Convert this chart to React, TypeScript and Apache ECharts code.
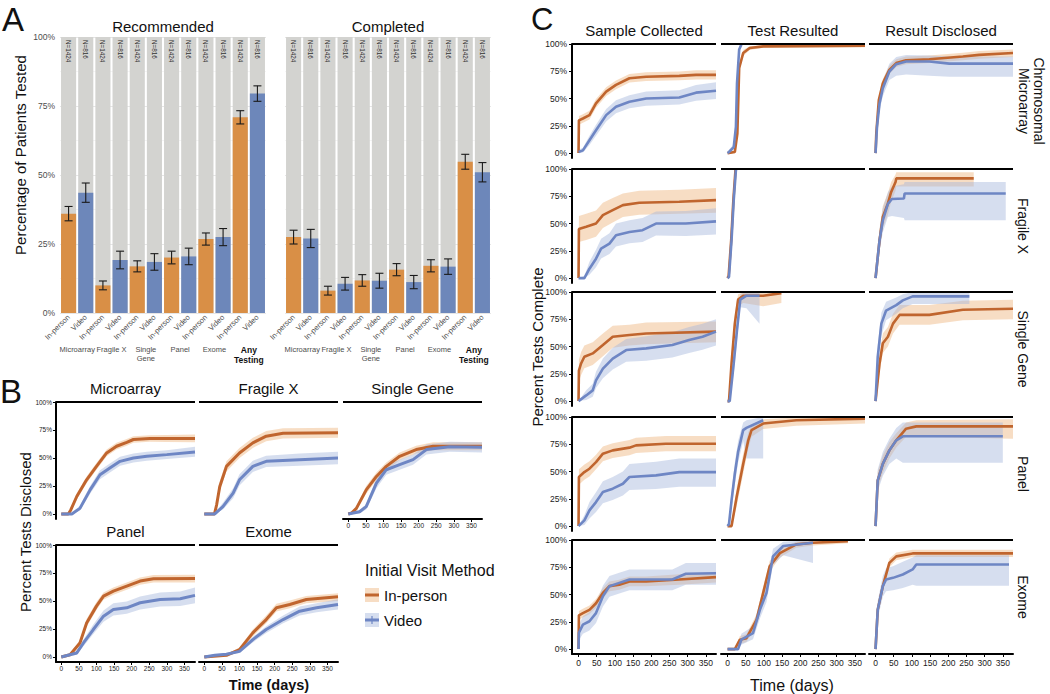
import React, { useEffect, useRef } from 'react';
import * as echarts from 'echarts';

// ---------- Panel A data ----------
const barLabels = ['In-person', 'Video', 'In-person', 'Video', 'In-person', 'Video', 'In-person', 'Video', 'In-person', 'Video', 'In-person', 'Video'];
const groupLabels = ['Microarray', 'Fragile X', 'Single\nGene', 'Panel', 'Exome', 'Any\nTesting'];
const nLabels = ['N=1424', 'N=816', 'N=1424', 'N=816', 'N=1424', 'N=816', 'N=1424', 'N=816', 'N=1424', 'N=816', 'N=1424', 'N=816'];
const recommendedPct = [36, 43.6, 10, 19.2, 16.9, 18.5, 20.1, 20.5, 26.8, 27.5, 70.9, 79.5];
const recommendedErr = [2.6, 3.5, 1.6, 3.2, 2, 3, 2.3, 3, 2.2, 3.1, 2.4, 2.8];
const completedPct = [27.5, 27, 8.1, 10.6, 11.8, 11.7, 15.7, 11.2, 17.1, 16.8, 54.8, 51];
const completedErr = [2.5, 3.3, 1.6, 2.3, 2.1, 2.7, 2.2, 2.4, 2.2, 2.8, 2.7, 3.5];
const pctTicks = [0, 25, 50, 75, 100];
const dayTicks = [0, 50, 100, 150, 200, 250, 300, 350];

// ---------- Panel B data: [day, estimate, lower, upper] ----------
const bTitles = ['Microarray', 'Fragile X', 'Single Gene', 'Panel', 'Exome'];
const bMicroarrayIn = [[0,0,0,0],[20,0,0,0.5],[27,3.6,2,5.5],[44,15.6,13,18.5],[72,30.5,27.5,33.5],[100,42.5,39.5,45.5],[129,54.5,51.5,57.5],[157,60.5,57.5,63.5],[186,64,61,67],[205,66.5,63.5,69.5],[252,67.4,64.4,70.4],[300,67.4,64.2,70.6],[380,67.5,64,71]];
const bMicroarrayVid = [[0,0,0,0],[30,0,0,0.5],[53,5,3,7.5],[82,21.5,18,25],[110,35,31,39],[138,41,37,45],[167,47,43,51],[205,50,46,54],[243,51.5,47.5,55.5],[300,53,49,57],[380,55.4,51,60]];
const bFragileIn = [[0,0,0,0],[29,0,0,1],[35,8,5,12],[44,24.5,20,29],[63,42.5,38,47],[100,54.5,50,59],[138,63.5,59,68],[176,69.5,65,74],[224,72,67.5,76.5],[380,72.5,68,77]];
const bFragileVid = [[0,0,0,0],[30,0,0,1],[53,6.6,4,10],[82,18.6,14,23],[100,30.5,25.5,35.5],[138,42.5,37.5,47.5],[176,47,42,52],[271,48.5,43,54],[380,50,44.5,55.5]];
const bSingleIn = [[0,0,0,0],[10,1,0,2],[23,5,3,7],[51,21.5,18,25],[80,33.5,30,37],[108,42.5,39,46],[146,51.5,48,55],[193,57.5,54,61],[241,60.5,57,64],[380,60.5,57,64]];
const bSingleVid = [[0,0,0,0],[32,2,0.5,3.5],[51,6.6,4,9],[80,27.5,23,32],[108,39.5,35,44],[146,44,39.5,48.5],[184,48.5,44,53],[222,57.5,53,62],[288,60,55.5,64.5],[380,59.5,55,64]];
const bPanelIn = [[0,0,0,0],[25,2,1,3],[53,12.5,10,15],[72,30.4,27,34],[100,45.4,42,49],[120,54.3,51,57.5],[148,58.8,55.5,62],[186,63.3,60,66.5],[224,67.8,64.5,71],[262,69.9,66.5,73.3],[380,70,66.5,73.5]];
const bPanelVid = [[0,0,0,0],[44,3.6,2,5.5],[63,12.5,9.5,15.5],[91,24.5,20.5,29],[120,36.4,31.5,41.5],[148,42.4,37,48],[186,43.9,38.5,49.5],[224,48.4,42.5,54],[281,51.3,45,57.5],[338,52,45.5,58.5],[380,55,48,62]];
const bExomeIn = [[0,0,0,0],[63,1.5,0.5,2.5],[100,6.6,5,8.5],[138,21.5,18.5,24.5],[176,33.4,30,37],[205,43.9,40.5,47.5],[243,46.9,43.5,50.5],[290,51.3,48,54.5],[380,53.7,50,57]];
const bExomeVid = [[0,0,0,0],[30,1.5,0.5,2.5],[63,2.5,1.5,3.5],[100,5,3.5,6.5],[138,15.5,13,18],[176,24.5,21.5,27.5],[224,33.4,30,37],[271,40.9,37,45],[319,43.9,40,48],[380,46.9,42.5,51.5]];

// ---------- Panel C data: [day, estimate, lower, upper] ----------
const cColTitles = ['Sample Collected', 'Test Resulted', 'Result Disclosed'];
const cRowTitles = ['Chromosomal\nMicroarray', 'Fragile X', 'Single Gene', 'Panel', 'Exome'];
// Chromosomal Microarray
const cMicroSampleIn = [[0,0,0,0],[1,30,26,34],[12,31.7,27.7,35.7],[30,34.8,30.8,38.8],[48,45.5,41.5,49.5],[76,56.3,52.3,60.3],[103,62.5,58.5,66.5],[140,68.6,64.6,72.6],[186,70,66,74],[277,70.8,66.8,74.8],[323,71.7,67.5,75.9],[378,71.7,67.5,75.9]];
const cMicroSampleVid = [[0,1,0,3],[12,2.5,0.5,5],[30,11.7,7.5,16],[48,20.9,16,26],[76,34.8,29,40.5],[103,42.5,36.5,48.5],[140,47,41,53],[186,50,43.5,56.5],[277,51,44.5,57.5],[323,55.4,48,62.5],[378,57.2,49.5,65]];
const cMicroTestIn = [[0,0,0,0],[20,1,0,2.5],[27,17.8,14,22],[32,78,74,82],[43,91.7,89,94.5],[61,96.3,94.5,98],[98,97.8,96.5,99],[378,98.5,97,100]];
const cMicroTestVid = [[0,0,0,0],[4,1,0,3],[17,5.5,3,8],[23,24,19,29],[26,64,58,70],[32,95,92,98],[38,99.4,98.5,100]];
const cMicroDiscIn = [[0,0,0,0],[2,17.8,14,21.5],[9,48.6,44.5,52.5],[20,64,60,68],[38,76.3,72.5,80],[57,82.5,79,86],[84,85,81.5,88.5],[148,86,82.5,89.5],[240,88.6,85,92],[285,90,86.5,93.5],[378,91.7,88,95]];
const cMicroDiscVid = [[0,0,0,0],[4,24,18,30],[11,45.5,39,52],[20,59.4,52,66.5],[38,74.8,67,82],[57,81.5,71,88],[84,84,72,90],[148,84,71,89.5],[203,82,70,88.5],[378,82,70,88.5]];
// Fragile X
const cFragSampleIn = [[0,0,0,0],[1,45,33,57],[21,47,35,59],[48,50,38,62],[67,57.7,46,69],[94,62.3,51,73.5],[122,66.9,56,77.5],[167,69,58,80],[277,70,59,81],[378,71.5,60,82.5]];
const cFragSampleVid = [[0,0,0,0],[16,0,0,2],[30,8.6,3,15],[48,17.8,10,26],[62,27,18,36],[85,31.6,22,41],[103,39.3,29,50],[140,42.3,32,53],[176,43.9,33,55],[213,50,39,61],[295,50,38.5,61.5],[378,52,40,64]];
const cFragTestIn = [[0,0,0,0],[3,2,0,6],[10,34.7,25,45],[16,71.5,62,80],[22,100,99,100]];
const cFragTestVid = [[0,0,0,0],[4,1,0,5],[11,34.7,25,45],[17,71.5,62,80],[23,99,96,100],[25,100,99,100]];
const cFragDiscIn = [[0,0,0,0],[11,34.7,25,45],[20,56,46,66],[34,68.4,58,78],[43,79,70,88],[55,88,80,95],[57,91.4,84,97],[270,91.4,84,97]];
const cFragDiscVid = [[0,0,0,0],[11,34.7,25,45],[20,53,42,64],[34,68,56,79],[45,72.5,57,84],[78,73,55,86],[80,77.6,53,88],[358,77.6,53,88]];
// Single Gene
const cSingleSampleIn = [[0,0,0,0],[1,28,18,38],[7,34.5,24,45],[16,40.6,30,51],[39,43.7,33,54],[67,51.4,41,62],[94,59,49,69],[140,60.6,51,70],[186,62,52,72],[378,63.7,54,73]];
const cSingleSampleVid = [[0,0,0,0],[21,5.2,1,10],[39,9.8,4,16],[48,19,12,27],[67,29.8,21,39],[94,39,29,49],[131,46.8,36,57],[186,48.3,37,59.5],[258,51.4,40,63],[304,56,44,68],[341,59,47,71],[378,63.7,51,75]];
const cSingleTestIn = [[0,0,0,0],[4,0,0,2],[11,34.5,25,44],[20,71,62,80],[29,93,87,98],[43,96.6,90,99.5],[98,96.6,87,100],[148,99,90,100]];
const cSingleTestVid = [[0,0,0,0],[6,0,0,2],[17,34.5,25,44],[26,65,55,75],[35,93,86,98],[52,96.6,85,100],[88,96.6,71,100]];
const cSingleDiscIn = [[0,0,0,0],[11,34.5,26,43],[20,53,44,62],[34,59,50,68],[48,71,62,80],[66,79,70,88],[148,79,70,88],[240,83.7,74,92],[378,84.6,75,93]];
const cSingleDiscVid = [[0,0,0,0],[6,40.6,30,51],[16,71,60,81],[29,83,74,91],[57,88,80,95],[75,92.3,85,98],[102,96,89,100],[258,96,89,100]];
// Panel
const cPanelSampleIn = [[0,0,0,0],[1,45,38,52],[16,49.5,42.5,56.5],[30,52.6,45.5,59.5],[48,58.7,52,65.5],[67,66.4,59.5,73],[94,69.4,62.5,76],[140,71.9,65,79],[158,74,67,81],[240,75.5,68.5,82.5],[378,75.5,68.5,82.5]];
const cPanelSampleVid = [[0,0,0,0],[16,5.2,1,10],[30,14.4,7,22],[48,22,13,31],[67,31.2,21,41],[94,34.3,24,45],[122,38.8,28,50],[140,45,33,57],[213,46.5,34,59],[277,49.5,36,62],[378,49.5,36,62]];
const cPanelTestIn = [[0,0,0,0],[11,0,0,2],[25,26.6,18,35],[43,57,48,66],[57,78.6,71,86],[66,88,82,93],[98,94,89,98],[189,97,92,99.5],[378,98.5,94,100]];
const cPanelTestVid = [[0,0,0,0],[4,2,0,6],[11,23.5,15,32],[20,48,38,58],[29,68,58,78],[43,88,78,95],[52,90,62,97],[98,97,62,100]];
const cPanelDiscIn = [[0,0,0,0],[6,42,34,50],[20,57,49,65],[38,69.4,62,77],[57,78.6,72,85],[84,89.3,82,95],[112,91.4,82,97],[378,91.4,80,98]];
const cPanelDiscVid = [[0,0,0,0],[6,42,32,52],[20,57,46,68],[38,69.4,57,80],[57,78.6,62,90],[75,82.3,58,95],[350,82.3,58,95]];
// Exome
const cExomeSampleIn = [[0,0,0,0],[1,31,27,35],[12,33,29,37],[30,36,32,40],[48,42,38,46],[67,51.5,47,56],[85,57.7,53,62],[112,59,54.5,63.5],[140,62,57.5,66.5],[186,62,57.5,66.5],[277,63.8,59,68.5],[378,66,61,71]];
const cExomeSampleVid = [[0,0,0,0],[1,15,8,22],[12,22.4,14,30],[30,25.5,17,34],[48,33,24,42],[67,48.5,39,58],[85,57.7,48,67],[112,60.7,51,70],[140,63.8,54,73],[258,63.8,54,73],[295,69,59,79],[378,69.5,59,79]];
const cExomeTestIn = [[0,0,0,0],[20,0,0,1],[34,8.6,5,12],[52,10,6.5,13.5],[80,27,22,32],[98,51.5,46,57],[116,76,71,81],[144,88,84,92],[189,96,93,98.5],[235,97.5,95,99.5],[331,99,97,100]];
const cExomeTestVid = [[0,0,0,0],[29,0,0,1],[38,8.6,4,14],[70,14.7,9,21],[89,36,28,44],[107,51.5,43,60],[125,85,77,92],[153,94.5,86,98.5],[235,97.5,79,100]];
const cExomeDiscIn = [[0,0,0,0],[6,36,32,40],[20,57.7,53.5,62],[38,79,75,83],[57,85,81.5,88.5],[102,87.7,84.5,91],[378,87.7,84.5,91]];
const cExomeDiscVid = [[0,0,0,0],[6,36,28,44],[20,57.7,48,67],[29,63.8,53,74],[48,65.3,54,76],[75,68.4,56,80],[102,73,59,84],[112,77.6,58,86],[367,77.6,58,86]];

const FONT = '"Liberation Sans", Arial, Helvetica, sans-serif';
const ORANGE_BAR = '#D98F46';
const BLUE_BAR = '#6D87BA';
const ORANGE_LINE = '#C0652E';
const BLUE_LINE = '#6E86C4';
const ORANGE_BAND = 'rgba(235,173,115,0.42)';
const BLUE_BAND = 'rgba(164,182,219,0.45)';

function buildOption() {
  const grid: any[] = [];
  const xAxis: any[] = [];
  const yAxis: any[] = [];
  const series: any[] = [];
  const graphic: any[] = [];

  const txt = (text: string, x: number, y: number, size: number, extra: any = {}) => ({
    type: 'text', x, y, rotation: extra.rotation || 0, silent: true,
    style: { text, x: 0, y: 0, fontSize: size, fontFamily: FONT, fill: extra.fill || '#111',
      fontWeight: extra.weight || 'normal', align: extra.align || 'center', verticalAlign: 'middle', lineHeight: extra.lineHeight },
  });

  // ---------------- Panel A ----------------
  const aPanels = [
    { left: 60, title: 'Recommended', vals: recommendedPct, errs: recommendedErr },
    { left: 285, title: 'Completed', vals: completedPct, errs: completedErr },
  ];
  aPanels.forEach((p, pi) => {
    const gi = grid.length;
    grid.push({ left: p.left, top: 37, width: 206, height: 276 });
    const xi = xAxis.length;
    xAxis.push({
      type: 'category', gridIndex: gi, data: barLabels, position: 'bottom',
      axisLine: { show: false }, axisTick: { show: false }, splitLine: { show: false },
      axisLabel: { interval: 0, rotate: 45, fontSize: 7.5, color: '#4d4d4d', margin: 3, fontFamily: FONT },
    });
    xAxis.push({
      type: 'category', gridIndex: gi, data: groupLabels, position: 'bottom', offset: 31,
      axisLine: { show: false }, axisTick: { show: false }, splitLine: { show: false },
      axisLabel: {
        interval: 0, fontSize: 7.5, color: '#4d4d4d', margin: 1, lineHeight: 9, fontFamily: FONT,
        formatter: (v: string) => (v === 'Any\nTesting' ? '{b|Any}\n{b|Testing}' : v),
        rich: { b: { fontWeight: 'bold', fontSize: 8.5, color: '#111', lineHeight: 10, fontFamily: FONT } },
      },
    });
    const yi = yAxis.length;
    yAxis.push({
      type: 'value', gridIndex: gi, min: 0, max: 100, interval: 25,
      axisLine: { show: false }, axisTick: { show: false },
      axisLabel: { show: pi === 0, formatter: '{value}%', fontSize: 8.5, color: '#4d4d4d', margin: 5, fontFamily: FONT },
      splitLine: { show: true, lineStyle: { color: '#e6e6e6', width: 1 } },
      minorTick: { show: false, splitNumber: 2 },
      minorSplitLine: { show: true, lineStyle: { color: '#f1f1f1', width: 0.7 } },
    });
    series.push({
      type: 'bar', xAxisIndex: xi, yAxisIndex: yi, barCategoryGap: '12%',
      showBackground: true, backgroundStyle: { color: '#D3D3D0' },
      data: p.vals.map((v, i) => ({ value: v, itemStyle: { color: i % 2 === 0 ? ORANGE_BAR : BLUE_BAR } })),
      silent: true,
    });
    series.push({
      type: 'custom', xAxisIndex: xi, yAxisIndex: yi, z: 5, silent: true,
      data: p.vals.map((v, i) => [i, v - p.errs[i], v + p.errs[i]]),
      encode: { x: 0, y: [1, 2] },
      renderItem: (params: any, api: any) => {
        const x = api.value(0);
        const lo = api.coord([x, api.value(1)]);
        const hi = api.coord([x, api.value(2)]);
        const w = 4;
        const style = { stroke: '#1a1a1a', lineWidth: 1.1 };
        return {
          type: 'group', children: [
            { type: 'line', shape: { x1: lo[0], y1: lo[1], x2: hi[0], y2: hi[1] }, style },
            { type: 'line', shape: { x1: lo[0] - w, y1: lo[1], x2: lo[0] + w, y2: lo[1] }, style },
            { type: 'line', shape: { x1: hi[0] - w, y1: hi[1], x2: hi[0] + w, y2: hi[1] }, style },
          ],
        };
      },
    });
    series.push({
      type: 'custom', xAxisIndex: xi, yAxisIndex: yi, z: 5, silent: true,
      data: nLabels.map((_, i) => [i, 98.9]),
      encode: { x: 0, y: 1 },
      renderItem: (params: any, api: any) => {
        const c = api.coord([api.value(0), api.value(1)]);
        return {
          type: 'text', x: c[0], y: c[1], rotation: -Math.PI / 2,
          style: { text: nLabels[params.dataIndex], x: 0, y: 0, fontSize: 6.3, fill: '#333', fontFamily: FONT, align: 'left', verticalAlign: 'middle' },
        };
      },
    });
    graphic.push(txt(p.title, p.left + 103, 26, 15));
  });
  graphic.push(txt('A', 2, 19, 33, { align: 'left' }));
  graphic.push(txt('Percentage of Patients Tested', 20, 155, 15, { rotation: Math.PI / 2 }));

  // ---------------- facet helper ----------------
  const addFacet = (cfg: any) => {
    const gi = grid.length;
    grid.push({ left: cfg.left, top: cfg.top, width: cfg.width, height: cfg.height });
    const xi = xAxis.length;
    xAxis.push({
      type: 'value', gridIndex: gi, min: cfg.xmin, max: cfg.xmax,
      axisLine: { show: cfg.showX, onZero: false, lineStyle: { color: '#000', width: 2 } },
      axisTick: { show: cfg.showX, customValues: dayTicks, length: 3, lineStyle: { color: '#000', width: 1 } },
      axisLabel: { show: cfg.showX, customValues: dayTicks, fontSize: cfg.xLabelSize, color: '#1a1a1a', margin: cfg.xMargin, fontFamily: FONT },
      splitLine: { show: false },
    });
    const yi = yAxis.length;
    yAxis.push({
      type: 'value', gridIndex: gi, min: -4.5, max: 100,
      axisLine: { show: cfg.showY, onZero: false, lineStyle: { color: '#000', width: 2 } },
      axisTick: { show: cfg.showY, customValues: pctTicks, length: 3, lineStyle: { color: '#000', width: 1 } },
      axisLabel: { show: cfg.showY, customValues: pctTicks, formatter: (v: number) => v + '%', fontSize: cfg.yLabelSize, color: '#1a1a1a', margin: cfg.yMargin, fontFamily: FONT },
      splitLine: { show: false },
    });
    const curves = [
      { d: cfg.inp, line: ORANGE_LINE, band: ORANGE_BAND },
      { d: cfg.vid, line: BLUE_LINE, band: BLUE_BAND },
    ];
    curves.forEach((c) => {
      const d: number[][] = c.d;
      series.push({
        type: 'custom', xAxisIndex: xi, yAxisIndex: yi, silent: true, z: 1,
        data: d.map((p) => [p[0], p[2], p[3]]),
        encode: { x: 0, y: [1, 2] },
        renderItem: (params: any, api: any) => {
          if (params.dataIndex !== 0) return null;
          const pts: number[][] = [];
          for (let i = 0; i < d.length; i++) pts.push(api.coord([d[i][0], d[i][2]]));
          for (let i = d.length - 1; i >= 0; i--) pts.push(api.coord([d[i][0], d[i][3]]));
          return { type: 'polygon', shape: { points: pts }, style: { fill: c.band } };
        },
      });
    });
    curves.forEach((c, ci) => {
      const s: any = {
        type: 'line', xAxisIndex: xi, yAxisIndex: yi, symbol: 'none', silent: true, z: 3,
        lineStyle: { color: c.line, width: cfg.lw },
        data: c.d.map((p: number[]) => [p[0], p[1]]),
      };
      if (ci === 0) {
        s.markLine = {
          silent: true, symbol: ['none', 'none'], label: { show: false },
          lineStyle: { color: '#000', width: 2, type: 'solid' },
          data: [{ yAxis: 100 }],
        };
      }
      series.push(s);
    });
  };

  // ---------------- Panel B ----------------
  const bData = [
    [bMicroarrayIn, bMicroarrayVid], [bFragileIn, bFragileVid], [bSingleIn, bSingleVid],
    [bPanelIn, bPanelVid], [bExomeIn, bExomeVid],
  ];
  const bLefts = [56, 199, 343, 56, 199];
  const bTops = [402, 402, 402, 545, 545];
  const bShowX = [false, false, true, true, true];
  const bShowY = [true, false, false, true, false];
  bData.forEach((d, i) => {
    addFacet({
      left: bLefts[i], top: bTops[i], width: 139, height: 117, xmin: -15, xmax: 380,
      showX: bShowX[i], showY: bShowY[i], xLabelSize: 6.5, yLabelSize: 6.5, xMargin: 3, yMargin: 4,
      inp: d[0], vid: d[1], lw: 3,
    });
    graphic.push(txt(bTitles[i], bLefts[i] + 69.5, bTops[i] - 14, 15));
  });
  graphic.push(txt('B', 0, 391, 33, { align: 'left' }));
  graphic.push(txt('Percent Tests Disclosed', 25, 532, 15, { rotation: Math.PI / 2 }));
  graphic.push(txt('Time (days)', 269, 685, 14.5, { weight: 'bold' }));
  // legend
  graphic.push(txt('Initial Visit Method', 365, 570, 16, { align: 'left' }));
  graphic.push({ type: 'rect', silent: true, shape: { x: 365, y: 588, width: 14, height: 14 }, style: { fill: ORANGE_BAND } });
  graphic.push({ type: 'line', silent: true, shape: { x1: 365, y1: 595, x2: 379, y2: 595 }, style: { stroke: ORANGE_LINE, lineWidth: 3 } });
  graphic.push(txt('In-person', 384, 595, 15, { align: 'left' }));
  graphic.push({ type: 'rect', silent: true, shape: { x: 365, y: 613, width: 14, height: 14 }, style: { fill: BLUE_BAND } });
  graphic.push({ type: 'line', silent: true, shape: { x1: 365, y1: 620, x2: 379, y2: 620 }, style: { stroke: BLUE_LINE, lineWidth: 3 } });
  graphic.push({ type: 'line', silent: true, shape: { x1: 372, y1: 616, x2: 372, y2: 624 }, style: { stroke: BLUE_LINE, lineWidth: 1.2 } });
  graphic.push(txt('Video', 384, 620, 15, { align: 'left' }));

  // ---------------- Panel C ----------------
  const cData = [
    [[cMicroSampleIn, cMicroSampleVid], [cMicroTestIn, cMicroTestVid], [cMicroDiscIn, cMicroDiscVid]],
    [[cFragSampleIn, cFragSampleVid], [cFragTestIn, cFragTestVid], [cFragDiscIn, cFragDiscVid]],
    [[cSingleSampleIn, cSingleSampleVid], [cSingleTestIn, cSingleTestVid], [cSingleDiscIn, cSingleDiscVid]],
    [[cPanelSampleIn, cPanelSampleVid], [cPanelTestIn, cPanelTestVid], [cPanelDiscIn, cPanelDiscVid]],
    [[cExomeSampleIn, cExomeSampleVid], [cExomeTestIn, cExomeTestVid], [cExomeDiscIn, cExomeDiscVid]],
  ];
  const cLefts = [572, 721, 869];
  const cTops = [44, 169, 292, 417, 540];
  cData.forEach((row, r) => {
    row.forEach((d, c) => {
      addFacet({
        left: cLefts[c], top: cTops[r], width: 144, height: 114, xmin: -18, xmax: 378,
        showX: r === 4, showY: c === 0, xLabelSize: 8.5, yLabelSize: 8.5, xMargin: 4, yMargin: 5,
        inp: d[0], vid: d[1], lw: 2.6,
      });
    });
    const two = cRowTitles[r].indexOf('\n') >= 0;
    graphic.push(txt(cRowTitles[r], two ? 1031 : 1023, cTops[r] + 57, 14, { rotation: -Math.PI / 2, lineHeight: 15 }));
  });
  cColTitles.forEach((t, c) => graphic.push(txt(t, cLefts[c] + 72, 30, 15)));
  graphic.push(txt('C', 531, 19, 31, { align: 'left' }));
  graphic.push(txt('Percent Tests Complete', 537, 347, 15, { rotation: Math.PI / 2 }));
  graphic.push(txt('Time (days)', 792, 685, 16));

  return {
    animation: false,
    backgroundColor: '#ffffff',
    textStyle: { fontFamily: FONT },
    grid, xAxis, yAxis, series, graphic,
  };
}

export default function App() {
  const ref = useRef<HTMLDivElement>(null);
  useEffect(() => {
    document.body.style.margin = '0';
    if (!ref.current) return;
    const chart = echarts.init(ref.current, undefined, { renderer: 'svg' });
    chart.setOption(buildOption() as any);
    return () => chart.dispose();
  }, []);
  return <div ref={ref} style={{ width: 1050, height: 694 }} />;
}
